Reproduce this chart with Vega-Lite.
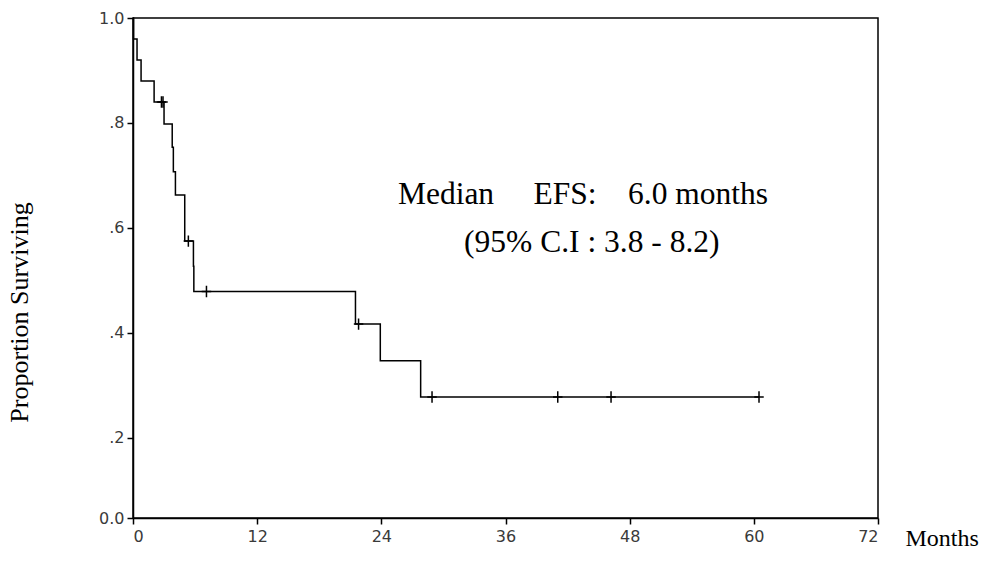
{
  "$schema": "https://vega.github.io/schema/vega-lite/v6.json",
  "width": 745,
  "height": 500,
  "autosize": {"type": "none"},
  "padding": {"left": 133, "top": 18, "right": 121, "bottom": 61},
  "background": "white",
  "config": {
    "view": {"stroke": "black", "strokeWidth": 1.5},
    "axis": {
      "domainColor": "black",
      "domainWidth": 1.5,
      "tickColor": "black",
      "tickWidth": 1.5,
      "tickSize": 6,
      "grid": false,
      "labelFont": "DejaVu Sans",
      "labelFontSize": 16,
      "labelColor": "#3a3a3a",
      "titleFont": "Liberation Serif",
      "titleFontWeight": "normal",
      "titleColor": "black"
    }
  },
  "datasets": {
    "km": [
      {"t": 0, "s": 1.0},
      {"t": 0.05, "s": 0.96},
      {"t": 0.39, "s": 0.92},
      {"t": 0.78, "s": 0.88},
      {"t": 2.04, "s": 0.84},
      {"t": 3.0, "s": 0.798},
      {"t": 3.79, "s": 0.754},
      {"t": 3.9, "s": 0.707},
      {"t": 4.1, "s": 0.663},
      {"t": 5.0, "s": 0.575},
      {"t": 5.84, "s": 0.527},
      {"t": 5.88, "s": 0.479},
      {"t": 21.5, "s": 0.417},
      {"t": 23.9, "s": 0.347},
      {"t": 27.8, "s": 0.278},
      {"t": 60.5, "s": 0.278}
    ],
    "censor": [
      {"t": 2.75, "s": 0.84},
      {"t": 2.9, "s": 0.84},
      {"t": 5.35, "s": 0.575},
      {"t": 7.1, "s": 0.479},
      {"t": 21.8, "s": 0.417},
      {"t": 28.9, "s": 0.278},
      {"t": 41.05, "s": 0.278},
      {"t": 46.2, "s": 0.278},
      {"t": 60.5, "s": 0.278}
    ]
  },
  "layer": [
    {
      "data": {"name": "km"},
      "mark": {"type": "line", "interpolate": "step-after", "color": "black", "strokeWidth": 1.5},
      "encoding": {
        "x": {
          "field": "t", "type": "quantitative",
          "scale": {"domain": [0, 72], "nice": false},
          "axis": {
            "values": [0, 12, 24, 36, 48, 60, 72],
            "labelPadding": 4,
            "title": "Months",
            "titleFontSize": 24,
            "titleAlign": "left",
            "titleAnchor": "start",
            "titleX": 772,
            "titleY": 27,
            "titleBaseline": "alphabetic"
          }
        },
        "y": {
          "field": "s", "type": "quantitative",
          "scale": {"domain": [0.0476, 1], "nice": false, "zero": false},
          "axis": {
            "values": [0.0476, 0.2, 0.4, 0.6, 0.8, 1.0],
            "labelExpr": "datum.value < 0.1 ? '0.0' : datum.value == 1 ? '1.0' : replace(format(datum.value, '.1f'), '0.', '.')",
            "labelPadding": 3,
            "title": "Proportion Surviving",
            "titleFontSize": 26,
            "titleAngle": -90,
            "titleX": -114,
            "titleY": 294,
            "titleAlign": "center",
            "titleBaseline": "middle"
          }
        }
      }
    },
    {
      "data": {"name": "censor"},
      "mark": {"type": "point", "shape": "M-1,0H1M0,-1.2V1.2", "filled": false, "stroke": "black", "strokeWidth": 1.5, "size": 90, "opacity": 1},
      "encoding": {
        "x": {"field": "t", "type": "quantitative"},
        "y": {"field": "s", "type": "quantitative"}
      }
    },
    {
      "data": {"values": [{}]},
      "mark": {"type": "text", "font": "Liberation Serif", "fontSize": 31.5, "align": "left", "baseline": "middle", "color": "black"},
      "encoding": {
        "x": {"datum": 25.6, "type": "quantitative"},
        "y": {"datum": 0.663, "type": "quantitative"},
        "text": {"value": "Median\u00a0\u00a0\u00a0\u00a0 EFS:\u00a0\u00a0\u00a0 6.0 months"}
      }
    },
    {
      "data": {"values": [{}]},
      "mark": {"type": "text", "font": "Liberation Serif", "fontSize": 31.5, "align": "left", "baseline": "middle", "color": "black"},
      "encoding": {
        "x": {"datum": 32.0, "type": "quantitative"},
        "y": {"datum": 0.571, "type": "quantitative"},
        "text": {"value": "(95% C.I : 3.8 - 8.2)"}
      }
    }
  ]
}
